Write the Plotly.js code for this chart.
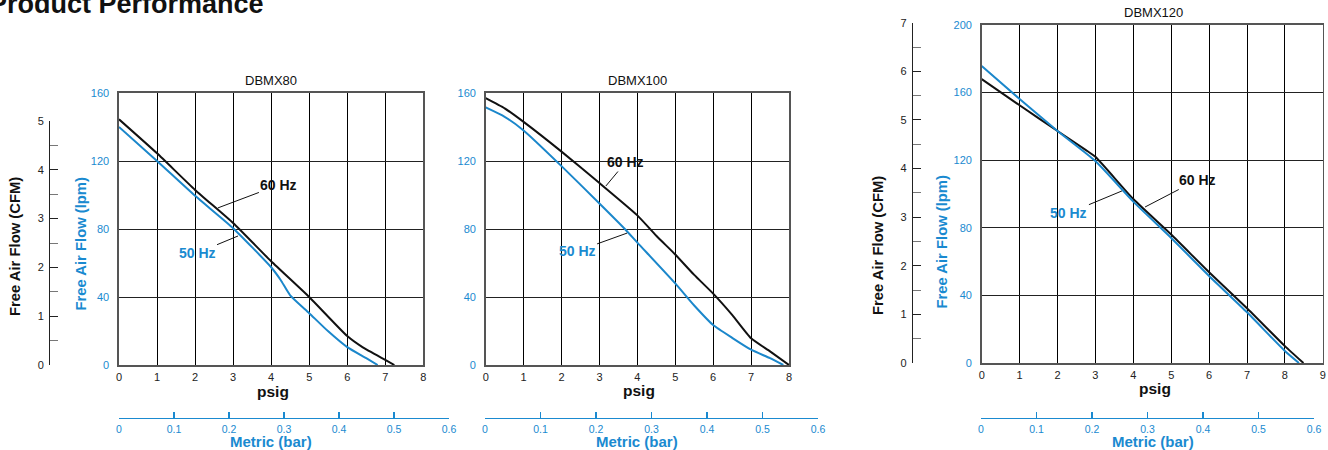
<!DOCTYPE html>
<html>
<head>
<meta charset="utf-8">
<script src="https://cdn.plot.ly/plotly-3.0.1.min.js"></script>
<style>
html,body{margin:0;padding:0;background:#fff;}
#chart{width:1328px;height:450px;}
</style>
</head>
<body>
<div id="chart"></div>
<script>
// ---------------- data ----------------
var chartTitles = ["DBMX80", "DBMX100", "DBMX120"];
var seriesNames = ["60 Hz", "50 Hz"];

var psig80_60 = [0, 1, 2, 3, 4, 5, 6, 6.4, 7, 7.24];
var lpm80_60  = [144.5, 124.5, 103, 83.5, 61, 40, 17, 10.5, 3, 0];
var psig80_50 = [0, 1, 2, 3, 4, 4.25, 4.5, 5, 5.5, 6, 6.5, 6.8];
var lpm80_50  = [140, 120, 99.5, 80.5, 57.5, 50, 41, 30.5, 19.8, 10.5, 4, 0];

var psig100_60 = [0, 0.5, 1, 2, 3, 4, 4.5, 5, 5.5, 6, 6.5, 7, 7.5, 8];
var lpm100_60  = [157, 151, 143, 125.5, 107, 88, 76, 65, 53, 42, 29.5, 15.7, 8, 0];
var psig100_50 = [0, 0.5, 1, 2, 3, 3.67, 4, 5, 5.5, 6, 6.5, 7, 7.5, 7.85];
var lpm100_50  = [151.5, 146, 138, 117, 95, 80, 72, 48, 35, 23.5, 16, 9, 4, 0];

var psig120_60 = [0, 1, 2, 2.75, 3, 4, 5, 6, 7, 8, 8.49];
var lpm120_60  = [168, 152.5, 137.3, 126, 122, 97, 76, 53.7, 32.4, 10, 0];
var psig120_50 = [0, 1, 2, 3, 4, 5, 6, 7, 8, 8.37];
var lpm120_50  = [175.7, 156.2, 137.3, 119.5, 95.5, 74, 51.5, 30, 7.1, 0];

// label pointer positions on curves (psig, lpm)
var lab80  = {p60: [2.6, 92.4],  p50: [3.13, 75.9]};
var lab100 = {p60: [3.17, 105.3], p50: [3.73, 77.6]};
var lab120 = {p60: [4.31, 92.3], p50: [3.70, 101.8]};

// ---------------- styling ----------------
var W = 1328, H = 450;
function X(px){ return px / W; }
function Y(py){ return 1 - py / H; }
var FONT = "Liberation Sans, Arial, Helvetica, sans-serif";
var BLUE = "#1a8ad0";
var LINEBLUE = "#1b87cb";
var BLACK = "#111111";

function curve(x, y, xa, ya, color){
  return {type:"scatter", mode:"lines", x:x, y:y, xaxis:xa, yaxis:ya,
          line:{color:color, width:2, shape:"spline", smoothing:0.5},
          hoverinfo:"skip", showlegend:false};
}
function dummy(xa, ya){
  return {type:"scatter", mode:"markers", x:[], y:[], xaxis:xa, yaxis:ya, hoverinfo:"skip", showlegend:false};
}

var traces = [
  curve(psig80_60, lpm80_60, "x", "y", BLACK),
  curve(psig80_50, lpm80_50, "x", "y", LINEBLUE),
  curve(psig100_60, lpm100_60, "x2", "y2", BLACK),
  curve(psig100_50, lpm100_50, "x2", "y2", LINEBLUE),
  curve(psig120_60, lpm120_60, "x3", "y3", BLACK),
  curve(psig120_50, lpm120_50, "x3", "y3", LINEBLUE),
  dummy("x7", "y4"), dummy("x7", "y5"),
  dummy("x4", "y7"), dummy("x5", "y7"), dummy("x6", "y7")
];

function psigAxis(d0, d1, maxv, anchor){
  return {domain:[X(d0), X(d1)], range:[0, maxv], dtick:1, tick0:0, anchor:anchor,
          showgrid:true, gridcolor:"#000", gridwidth:1, zeroline:false,
          showline:true, linecolor:"#555", linewidth:1.6, mirror:true,
          ticks:"", ticklabelstandoff:1, tickfont:{family:FONT, size:11, color:"#222"},
          fixedrange:true};
}
function lpmAxis(top, bottom, maxv, anchor){
  return {domain:[Y(bottom), Y(top)], range:[0, maxv], dtick:40, tick0:0, anchor:anchor,
          showgrid:true, gridcolor:"#222", gridwidth:1, zeroline:false,
          showline:true, linecolor:"#555", linewidth:1.6, mirror:true,
          ticks:"", ticklabelstandoff:6, tickfont:{family:FONT, size:11, color:BLUE},
          fixedrange:true};
}
function cfmAxis(top, bottom, maxv, pos){
  return {domain:[Y(bottom), Y(top)], range:[0, maxv], dtick:1, tick0:0, anchor:"free",
          position:X(pos), side:"left", showgrid:false, zeroline:false,
          showline:true, linecolor:"#222", linewidth:1,
          ticks:"inside", ticklen:8, tickcolor:"#222", tickwidth:1,
          minor:{dtick:0.5, ticks:"inside", ticklen:8, tickcolor:"#777", tickwidth:1, showgrid:false},
          ticklabelstandoff:3, tickfont:{family:FONT, size:11, color:"#222"}, fixedrange:true};
}
function metricAxis(d0, d1){
  return {domain:[X(d0), X(d1)], range:[0, 0.6], dtick:0.1, tick0:0, anchor:"free",
          position:Y(418), side:"bottom", showgrid:false, zeroline:false,
          showline:true, linecolor:BLUE, linewidth:1.3,
          ticks:"inside", ticklen:6, tickcolor:BLUE, tickwidth:1.3,
          ticklabelstandoff:1, tickfont:{family:FONT, size:10.5, color:BLUE}, fixedrange:true};
}

function txt(text, cx, cy, size, color, bold, angle){
  return {xref:"paper", yref:"paper", x:X(cx), y:Y(cy), xanchor:"center", yanchor:"middle",
          text: bold ? "<b>"+text+"</b>" : text, showarrow:false, textangle: angle||0,
          font:{family:FONT, size:size, color:color}};
}
function hzLabel(text, pt, xa, ya, ax, ay, color){
  return {xref:xa, yref:ya, x:pt[0], y:pt[1], ax:ax, ay:ay, text:"<b>"+text+"</b>",
          showarrow:true, arrowhead:0, arrowwidth:1, arrowcolor:"#111", standoff:0,
          font:{family:FONT, size:14, color:color}, bgcolor:"rgba(255,255,255,0)"};
}

var annotations = [
  {xref:"paper", yref:"paper", x:X(-13), y:Y(3.9), xanchor:"left", yanchor:"middle",
   text:"<b>Product Performance</b>", showarrow:false, font:{family:FONT, size:27, color:"#111"}},
  txt(chartTitles[0], 270.5, 80, 13, "#111", false),
  txt(chartTitles[1], 637, 80, 13, "#111", false),
  txt(chartTitles[2], 1153, 12.7, 13, "#111", false),
  txt("psig", 272.5, 391, 15.5, "#111", true),
  txt("psig", 639, 390, 15.5, "#111", true),
  txt("psig", 1155, 388, 15.5, "#111", true),
  txt("Metric (bar)", 271, 441, 15, BLUE, true),
  txt("Metric (bar)", 637, 441, 15, BLUE, true),
  txt("Metric (bar)", 1153, 441, 15, BLUE, true),
  txt("Free Air Flow (CFM)", 15, 247, 14.8, "#111", true, -90),
  txt("Free Air Flow (lpm)", 80, 243.5, 14.8, BLUE, true, -90),
  txt("Free Air Flow (CFM)", 878, 246, 14.8, "#111", true, -90),
  txt("Free Air Flow (lpm)", 941.5, 242, 14.8, BLUE, true, -90),
  hzLabel(seriesNames[0], lab80.p60, "x", "y", 61, -23, "#111"),
  hzLabel(seriesNames[1], lab80.p50, "x", "y", -41, 17, BLUE),
  hzLabel(seriesNames[0], lab100.p60, "x2", "y2", 20, -24, "#111"),
  hzLabel(seriesNames[1], lab100.p50, "x2", "y2", -50, 18, BLUE),
  hzLabel(seriesNames[0], lab120.p60, "x3", "y3", 52, -27, "#111"),
  hzLabel(seriesNames[1], lab120.p50, "x3", "y3", -53, 22, BLUE)
];

var layout = {
  width:W, height:H, margin:{l:0, r:0, t:0, b:0, pad:0},
  paper_bgcolor:"#fff", plot_bgcolor:"rgba(0,0,0,0)", showlegend:false,
  font:{family:FONT, color:"#111"},
  xaxis:  psigAxis(119, 423.3, 8, "y"),
  yaxis:  lpmAxis(93, 365, 160, "x"),
  xaxis2: psigAxis(485.7, 789, 8, "y2"),
  yaxis2: lpmAxis(93, 365, 160, "x2"),
  xaxis3: psigAxis(981.7, 1322.8, 9, "y3"),
  yaxis3: lpmAxis(25, 363, 200, "x3"),
  yaxis4: cfmAxis(121, 365, 5, 49),
  yaxis5: cfmAxis(22.7, 363, 7, 911.7),
  xaxis4: metricAxis(119, 449),
  xaxis5: metricAxis(485, 818),
  xaxis6: metricAxis(981, 1314),
  xaxis7: {visible:false, domain:[0,1], range:[0,1], anchor:"y7", fixedrange:true},
  yaxis7: {visible:false, domain:[0,1], range:[0,1], anchor:"x7", fixedrange:true},
  annotations: annotations
};

Plotly.newPlot("chart", traces, layout, {staticPlot:true, displayModeBar:false});
</script>
</body>
</html>
